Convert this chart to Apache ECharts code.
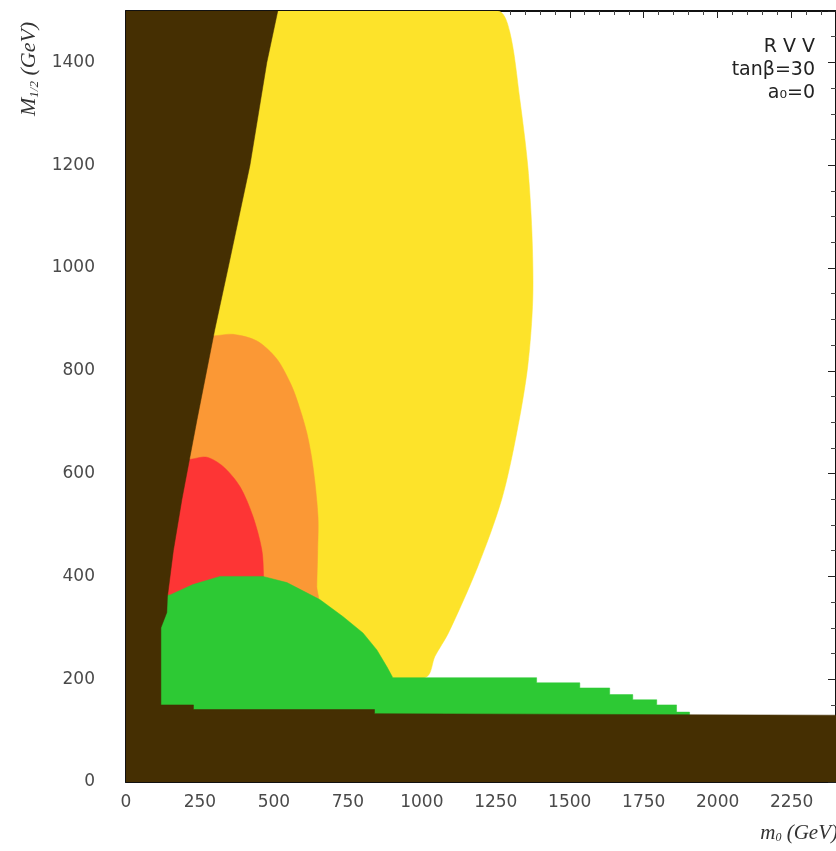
<!DOCTYPE html>
<html>
<head>
<meta charset="utf-8">
<title>RVV tanβ=30</title>
<script src="https://cdn.jsdelivr.net/npm/echarts@6/dist/echarts.min.js"></script>
<style>
  html, body { margin: 0; padding: 0; background: #fff; }
  #chart { width: 836px; height: 851px; }
</style>
</head>
<body>
<div id="chart"></div>
<script>
// axis ranges (GeV)
var m0Range = [0, 2400]
var m12Range = [0, 1500]

// region outlines, as [m0, M1/2] vertices
var yellowRegion = [
  [100, 1500], [1257, 1500], [1297, 1460], [1331, 1329], [1358, 1199], [1372, 1070],
  [1375, 940], [1358, 809], [1321, 680], [1270, 550], [1189, 419], [1090, 290],
  [1044, 244], [1017, 205], [900, 200], [600, 300], [100, 300]
]
var orangeRegion = [
  [100, 860], [300, 868], [362, 871], [443, 858], [510, 823], [554, 778], [577, 745], [611, 680],
  [632, 614], [649, 517], [648, 450], [645, 380], [645, 350], [100, 350]
]
var redRegion = [
  [100, 620], [220, 628], [273, 632], [328, 614], [385, 575], [429, 517], [459, 452],
  [465, 400], [465, 350], [100, 350]
]
var greenRegion = [
  [100, 100], [1905, 100], [1905, 136], [1861, 136], [1861, 150], [1794, 150], [1794, 160],
  [1713, 160], [1713, 170], [1635, 170], [1635, 183], [1534, 183], [1534, 193], [1388, 193],
  [1388, 203], [902, 203], [882, 224], [848, 257], [801, 290], [733, 322], [655, 355],
  [544, 388], [463, 400], [318, 400], [226, 384], [149, 364], [100, 362]
]
// excluded region (left wedge + bottom band)
var excludedRegion = [
  [0, 0], [2400, 0], [2400, 130], [840, 133], [840, 141], [228, 141], [228, 150], [118, 150],
  [118, 300], [138, 330], [140, 360], [160, 450], [189, 550], [240, 705], [300, 880],
  [345, 1000], [419, 1200], [476, 1400], [513, 1500], [0, 1500]
]

var colors = {
  excluded: '#452f02',
  yellow: '#fde32a',
  orange: '#fb9835',
  red: '#fd3535',
  green: '#2dc934'
}

function regionSeries(name, pts, color, smooth) {
  return {
    type: 'custom',
    name: name,
    silent: true,
    clip: true,
    data: pts,
    renderItem: function (params, api) {
      // whole outline is drawn once, from the first item
      if (params.dataIndex !== 0) return
      return {
        type: 'polygon',
        shape: {
          points: pts.map(function (p) { return api.coord(p) }),
          smooth: smooth || 0
        },
        style: { fill: color, stroke: color, lineWidth: 0.5 }
      }
    }
  }
}

var labelStyle = {
  color: '#4a4a4a',
  fontSize: 17,
  fontFamily: 'DejaVu Sans',
  formatter: function (v) { return String(v) }
}

var chart = echarts.init(document.getElementById('chart'))
chart.setOption({
  animation: false,
  backgroundColor: '#fff',
  grid: { left: 126, right: 0, top: 11, bottom: 69 },
  xAxis: [{
    type: 'value',
    position: 'bottom',
    min: m0Range[0],
    max: m0Range[1],
    interval: 250,
    splitLine: { show: false },
    axisLine: { lineStyle: { color: '#111', width: 2 } },
    axisTick: { show: false },
    axisLabel: Object.assign({ margin: 12, showMaxLabel: false }, labelStyle)
  }, {
    type: 'value',
    position: 'top',
    min: m0Range[0],
    max: m0Range[1],
    interval: 250,
    splitLine: { show: false },
    axisLine: { onZero: false, lineStyle: { color: '#111', width: 2 } },
    axisTick: { inside: true, length: 7, lineStyle: { color: '#222' } },
    minorTick: { show: true, splitNumber: 5, length: 4, lineStyle: { color: '#444' } },
    axisLabel: { show: false }
  }],
  yAxis: [{
    type: 'value',
    position: 'left',
    min: m12Range[0],
    max: m12Range[1],
    interval: 200,
    splitLine: { show: false },
    axisLine: { lineStyle: { color: '#111', width: 2 } },
    axisTick: { show: false },
    axisLabel: Object.assign({ margin: 31, showMaxLabel: false }, labelStyle)
  }, {
    type: 'value',
    position: 'right',
    min: m12Range[0],
    max: m12Range[1],
    interval: 200,
    splitLine: { show: false },
    axisLine: { onZero: false, lineStyle: { color: '#111', width: 2 } },
    axisTick: { inside: true, length: 8, lineStyle: { color: '#222' } },
    minorTick: { show: true, splitNumber: 4, length: 5, lineStyle: { color: '#444' } },
    axisLabel: { show: false }
  }],
  series: [
    regionSeries('yellow', yellowRegion, colors.yellow, 0.3),
    regionSeries('orange', orangeRegion, colors.orange, 0.3),
    regionSeries('red', redRegion, colors.red, 0.3),
    regionSeries('green', greenRegion, colors.green),
    regionSeries('excluded', excludedRegion, colors.excluded)
  ],
  graphic: [
    {
      type: 'text',
      x: 18,
      y: 116,
      rotation: Math.PI / 2,
      style: {
        text: '{m|M}{s|1/2}{m| (GeV)}',
        fill: '#333',
        rich: {
          m: { fontFamily: 'Liberation Serif', fontStyle: 'italic', fontSize: 22, fill: '#333' },
          s: { fontFamily: 'Liberation Serif', fontStyle: 'italic', fontSize: 13, fill: '#333', verticalAlign: 'bottom', padding: [10, 0, 0, 0] }
        }
      }
    },
    {
      type: 'text',
      x: 838,
      y: 833,
      style: {
        text: '{m|m}{s|0}{m| (GeV)}',
        align: 'right',
        verticalAlign: 'middle',
        fill: '#333',
        rich: {
          m: { fontFamily: 'Liberation Serif', fontStyle: 'italic', fontSize: 21, fill: '#333' },
          s: { fontFamily: 'Liberation Serif', fontStyle: 'italic', fontSize: 12, fill: '#333', verticalAlign: 'bottom', padding: [9, 0, 0, 0] }
        }
      }
    },
    {
      type: 'text',
      x: 815,
      y: 47,
      style: { text: 'R V V', align: 'right', verticalAlign: 'middle', fontFamily: 'DejaVu Sans', fontSize: 19, fill: '#222' }
    },
    {
      type: 'text',
      x: 815,
      y: 70,
      style: { text: 'tanβ=30', align: 'right', verticalAlign: 'middle', fontFamily: 'DejaVu Sans', fontSize: 19, fill: '#222' }
    },
    {
      type: 'text',
      x: 815,
      y: 93,
      style: { text: 'a₀=0', align: 'right', verticalAlign: 'middle', fontFamily: 'DejaVu Sans', fontSize: 19, fill: '#222' }
    }
  ]
})
</script>
</body>
</html>
